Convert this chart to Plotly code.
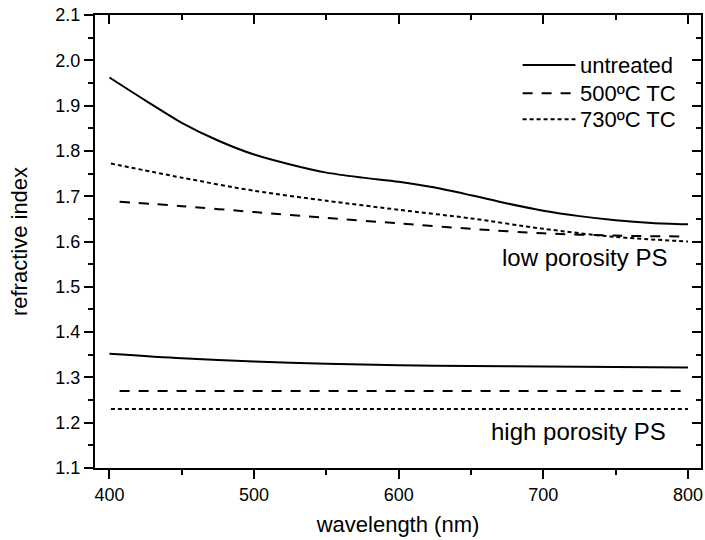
import plotly.graph_objects as go

# ---------------- data ----------------
wl_low_untreated = [400, 425, 450, 475, 500, 525, 550, 575, 600, 625, 650, 675, 700, 725, 750, 775, 800]
n_low_untreated = [1.962, 1.911, 1.862, 1.823, 1.792, 1.770, 1.752, 1.741, 1.732, 1.719, 1.702, 1.684,
                   1.668, 1.656, 1.647, 1.641, 1.638]

wl_low_500 = [407, 450, 500, 550, 600, 650, 700, 750, 800]
n_low_500 = [1.688, 1.678, 1.665, 1.652, 1.640, 1.628, 1.618, 1.613, 1.611]

wl_low_730 = [401, 450, 500, 550, 600, 650, 700, 750, 800]
n_low_730 = [1.772, 1.741, 1.712, 1.690, 1.670, 1.651, 1.628, 1.610, 1.600]

wl_high_untreated = [400, 450, 500, 550, 600, 650, 700, 750, 800]
n_high_untreated = [1.352, 1.342, 1.335, 1.330, 1.327, 1.325, 1.324, 1.323, 1.322]

wl_high_500 = [407, 800]
n_high_500 = [1.27, 1.27]

wl_high_730 = [401, 800]
n_high_730 = [1.23, 1.23]

legend_labels = ["untreated", "500ºC TC", "730ºC TC"]
x_title = "wavelength (nm)"
y_title = "refractive index"
region_labels = ["low porosity PS", "high porosity PS"]

# ---------------- styling ----------------
FONT = "Liberation Sans, Arial, sans-serif"
LW = 2
DASHES = ["solid", "10px,9px", "4px,3px"]

fig = go.Figure()

series = [
    (wl_low_untreated, n_low_untreated, 0),
    (wl_low_500, n_low_500, 1),
    (wl_low_730, n_low_730, 2),
    (wl_high_untreated, n_high_untreated, 0),
    (wl_high_500, n_high_500, 1),
]
for xs, ys, k in series:
    fig.add_trace(go.Scatter(x=xs, y=ys, mode="lines", showlegend=False,
                             line=dict(color="black", width=LW, dash=DASHES[k],
                                       shape="spline", smoothing=0.8)))
# last trace on the mirror axes so the top/right axes get drawn
fig.add_trace(go.Scatter(x=wl_high_730, y=n_high_730, mode="lines", showlegend=False,
                         xaxis="x2", yaxis="y2",
                         line=dict(color="black", width=LW, dash=DASHES[2])))

xr = [390, 809]
yr = [1.1, 2.1]

common_axis = dict(showgrid=False, zeroline=False, showline=True, linecolor="black", linewidth=2,
                   tickcolor="black", tickwidth=2)

fig.update_layout(
    width=705, height=540,
    margin=dict(l=95, r=2, t=15, b=72),
    paper_bgcolor="white", plot_bgcolor="white",
    font=dict(family=FONT, color="black", size=18),
    xaxis=dict(range=xr, dtick=100, ticks="outside", ticklen=9, ticklabeloverflow="allow",
               minor=dict(dtick=50, ticks="outside", ticklen=5, tickwidth=2, tickcolor="black"),
               title=dict(text=x_title, font=dict(size=22), standoff=13),
               tickfont=dict(size=18), **common_axis),
    yaxis=dict(range=yr, dtick=0.1, tickformat=".1f", ticks="outside", ticklen=9,
               ticklabeloverflow="allow",
               minor=dict(dtick=0.05, ticks="outside", ticklen=5, tickwidth=2, tickcolor="black"),
               title=dict(text=y_title, font=dict(size=22), standoff=22),
               tickfont=dict(size=18), **common_axis),
    xaxis2=dict(range=xr, dtick=100, overlaying="x", side="top", matches="x", anchor="y2",
                ticks="inside", ticklen=9, showticklabels=False,
                minor=dict(dtick=50, ticks="inside", ticklen=5, tickwidth=2, tickcolor="black"),
                **common_axis),
    yaxis2=dict(range=yr, dtick=0.1, overlaying="y", side="right", matches="y", anchor="x2",
                ticks="inside", ticklen=9, showticklabels=False,
                minor=dict(dtick=0.05, ticks="inside", ticklen=5, tickwidth=2, tickcolor="black"),
                **common_axis),
)

# manual legend (line samples + labels)
leg_y = [0.8896, 0.827, 0.770]
for i, lab in enumerate(legend_labels):
    fig.add_shape(type="line", xref="paper", yref="paper", x0=0.7056, x1=0.7928,
                  y0=leg_y[i], y1=leg_y[i], line=dict(color="black", width=LW, dash=DASHES[i]))
    fig.add_annotation(xref="paper", yref="paper", x=0.7977, y=leg_y[i], text=lab,
                       showarrow=False, xanchor="left", yanchor="middle",
                       font=dict(size=22, family=FONT, color="black"))

fig.add_annotation(x=787, y=1.564, text=region_labels[0], showarrow=False,
                   xanchor="right", yanchor="middle", font=dict(size=24, family=FONT, color="black"))
fig.add_annotation(x=786.5, y=1.180, text=region_labels[1], showarrow=False,
                   xanchor="right", yanchor="middle", font=dict(size=24, family=FONT, color="black"))

fig.write_html("out.html")
